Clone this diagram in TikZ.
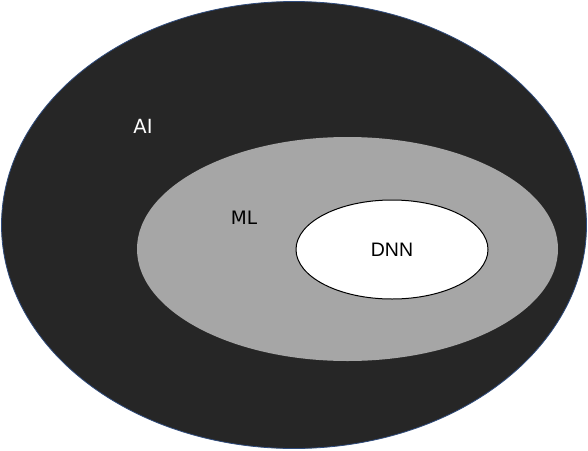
\documentclass[tikz,border=0pt]{standalone}
\usepackage{fontspec}
\setmainfont{DejaVu Sans}
\newfontfamily\arialf{Liberation Sans}
\definecolor{outerfill}{HTML}{262626}
\definecolor{outerline}{HTML}{2F4B7C}
\definecolor{midfill}{HTML}{A6A6A6}
\tikzset{
  lbl/.style={inner sep=0pt},
}
\begin{document}
\begin{tikzpicture}[x=1pt,y=-1pt]
\useasboundingbox (0,0) rectangle (588,450);
\fill[white] (0,0) rectangle (588,450);
\filldraw[fill=outerfill, draw=outerline, line width=0.8pt] (294,225) ellipse [x radius=292.5, y radius=223.5];
\fill[midfill] (347.5,249) ellipse [x radius=210.5, y radius=112];
\filldraw[fill=white, draw=black, line width=1pt] (392,249.5) ellipse [x radius=96, y radius=49.5];
\node[lbl, text=white, font=\fontsize{19.5}{22}\selectfont] (ai) at (143,126) {AI};
\node[lbl, text=black, font=\fontsize{18.5}{21}\selectfont] (ml) at (244,217.5) {ML};
\node[lbl, font=\arialf\fontsize{19.5}{22}\selectfont] (dnn) at (392,250) {DNN};
\end{tikzpicture}
\end{document}
